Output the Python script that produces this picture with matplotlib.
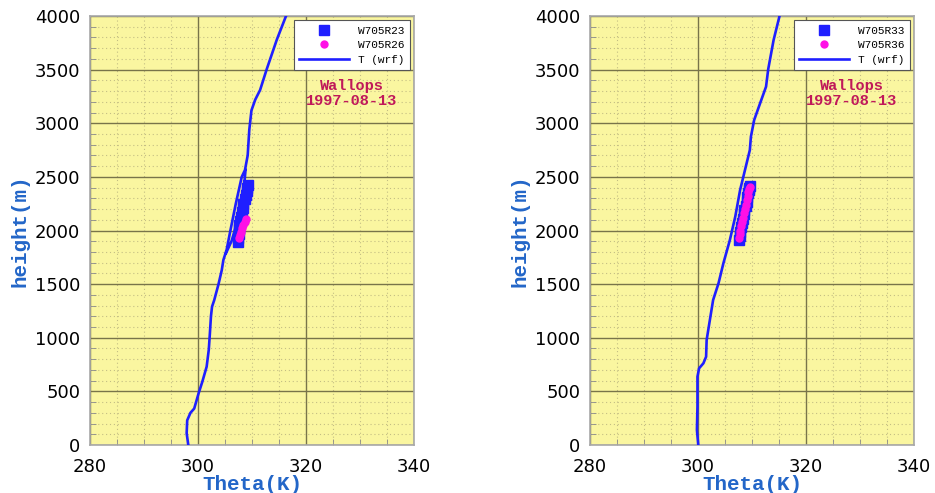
import numpy as np
import matplotlib
matplotlib.use("Agg")
import matplotlib.pyplot as plt
from matplotlib.ticker import MultipleLocator

# ---------------- data ----------------
# Left panel WRF profile (NaN separates the small second branch)
wrf1_theta = [298.2, 297.9, 298.0, 298.6, 299.3, 300.1, 300.8, 301.6, 302.0, 302.2,
              302.4, 302.6, 303.0, 303.8, 304.4, 304.7, 305.3, 306.0, 307.0, 308.1,
              308.7, 309.2, 309.5, 309.9, 310.6, 311.5, 312.7, 314.6, 316.3,
              np.nan,
              305.2, 306.2, 306.8, 307.5, 308.1, 308.6, 308.8]
wrf1_height = [0, 110, 230, 300, 340, 480, 590, 730, 890, 1040,
               1200, 1290, 1350, 1500, 1630, 1725, 1820, 2000, 2250, 2500,
               2564, 2700, 2940, 3120, 3220, 3310, 3500, 3780, 4000,
               np.nan,
               1790, 1900, 2000, 2150, 2300, 2450, 2564]

# Right panel WRF profile
wrf2_theta = [300.05, 299.8, 299.9, 299.9, 300.2, 301.0, 301.5, 301.6, 302.1, 302.8,
              303.8, 304.7, 305.9, 306.9, 307.8, 308.7, 309.6, 309.8, 310.4, 311.5,
              312.6, 313.0, 314.0, 315.1]
wrf2_height = [0, 140, 357, 637, 715, 762, 823, 979, 1135, 1352,
               1508, 1694, 1911, 2129, 2378, 2564, 2750, 2875, 3030, 3186,
               3341, 3503, 3776, 4000]

# Observations, left panel
r23_theta = [307.4, 307.4, 307.5, 307.6, 307.6, 307.8, 307.9, 308.1, 308.3, 308.4,
             308.7, 308.9, 309.0, 309.1, 309.2]
r23_height = [1890, 1930, 1970, 2010, 2050, 2090, 2130, 2170, 2210, 2250,
              2290, 2330, 2370, 2400, 2425]
r26_theta = [307.5, 307.7, 307.9, 308.2, 308.4, 308.7, 308.9]
r26_height = [1930, 1960, 1990, 2020, 2050, 2080, 2110]

# Observations, right panel
r33_theta = [307.6, 307.7, 307.8, 308.0, 308.1, 308.3, 308.5, 308.6, 308.8, 309.0,
             309.1, 309.3, 309.4, 309.5, 309.6]
r33_height = [1911, 1950, 1990, 2030, 2070, 2110, 2150, 2190, 2230, 2270,
              2310, 2345, 2375, 2400, 2415]
r36_theta = [307.5, 307.7, 307.8, 308.0, 308.2, 308.4, 308.5, 308.7, 308.9, 309.0,
             309.2, 309.3, 309.5, 309.6]
r36_height = [1927, 1965, 2000, 2040, 2080, 2120, 2160, 2200, 2240, 2280,
              2320, 2355, 2385, 2408]

x_ticks = [280, 300, 320, 340]
y_ticks = [0, 500, 1000, 1500, 2000, 2500, 3000, 3500, 4000]
site_text = "Wallops\n1997-08-13"

panels = [
    dict(theta=wrf1_theta, height=wrf1_height, sq=(r23_theta, r23_height), dot=(r26_theta, r26_height),
         sq_label="W705R23", dot_label="W705R26"),
    dict(theta=wrf2_theta, height=wrf2_height, sq=(r33_theta, r33_height), dot=(r36_theta, r36_height),
         sq_label="W705R33", dot_label="W705R36"),
]

# ---------------- style ----------------
BG = "#faf6a0"
MAJ = "#78744a"
MIN = "#c4be84"
BLUE = "#1f1fff"
MAG = "#ff10e6"
LABEL_BLUE = "#2366c8"
TEXT_RED = "#c0185a"
MONO = ["Liberation Mono", "DejaVu Sans Mono"]

fig = plt.figure(figsize=(9.35, 4.93), dpi=100)
lefts = [90 / 935, 590 / 935]
W = 324 / 935
B = 1 - 445 / 493
H = 429 / 493

for left, p in zip(lefts, panels):
    ax = fig.add_axes([left, B, W, H])
    ax.set_facecolor(BG)
    ax.set_xlim(280, 340)
    ax.set_ylim(0, 4000)
    ax.set_xticks(x_ticks)
    ax.set_yticks(y_ticks)
    ax.xaxis.set_minor_locator(MultipleLocator(5))
    ax.yaxis.set_minor_locator(MultipleLocator(100))
    ax.grid(which="major", color=MAJ, lw=1.0, ls="-", zorder=0)
    ax.grid(which="minor", color=MIN, lw=0.8, ls=(0, (1, 2.5)), zorder=0)
    ax.set_axisbelow(True)
    for s in ax.spines.values():
        s.set_color("#a8a8a8")
        s.set_linewidth(1.2)
    ax.tick_params(which="both", direction="in", colors="#8a8a8a", labelcolor="black",
                   labelsize=13, top=False, right=False)
    ax.tick_params(which="major", length=0)
    ax.tick_params(axis="x", which="major", pad=9)
    ax.tick_params(axis="y", which="major", pad=7)
    ax.tick_params(which="minor", length=4)

    sq_t, sq_h = p["sq"]
    dt, dh = p["dot"]
    ax.plot(sq_t, sq_h, ls="none", marker="s", ms=7.5, color=BLUE, label=p["sq_label"], zorder=3)
    ax.plot(dt, dh, ls="none", marker="o", ms=5, color=MAG, label=p["dot_label"], zorder=4)
    ax.plot(p["theta"], p["height"], color=BLUE, lw=1.9, label="T (wrf)", zorder=5)

    leg = ax.legend(loc="upper right", bbox_to_anchor=(0.988, 0.99), borderaxespad=0,
                    prop={"family": MONO, "size": 8}, fancybox=False, framealpha=1,
                    edgecolor="#555555", handlelength=4.5, handletextpad=0.8,
                    borderpad=0.5, labelspacing=0.4, markerscale=1.0)
    leg.get_frame().set_linewidth(0.8)
    leg.set_zorder(10)

    ax.text(0.808, 0.82, site_text, transform=ax.transAxes, ha="center", va="center",
            family=MONO, fontsize=11, fontweight="bold", color=TEXT_RED, linespacing=1.1,
            zorder=11)

    ax.set_xlabel("Theta(K)", family=MONO, fontsize=15, fontweight="bold",
                  color=LABEL_BLUE, labelpad=0)
    ax.set_ylabel("height(m)", family=MONO, fontsize=15, fontweight="bold",
                  color=LABEL_BLUE, labelpad=4)

fig.savefig("out.png", dpi=100)
